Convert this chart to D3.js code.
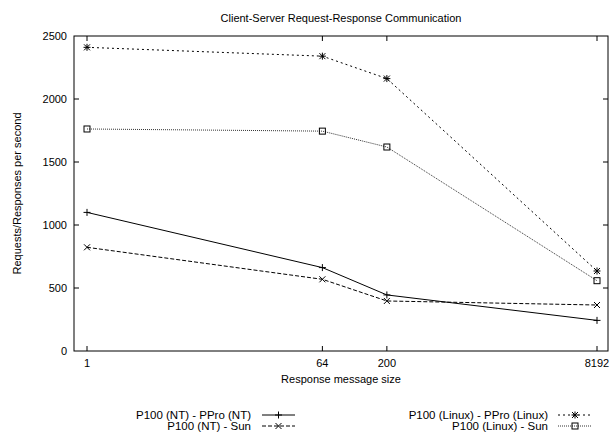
<!DOCTYPE html>
<html>
<head>
<meta charset="utf-8">
<script src="https://cdn.jsdelivr.net/npm/d3@7"></script>
<style>
  body { margin: 0; background: #fff; }
  svg { font-family: "Liberation Sans", Arial, sans-serif; }
</style>
</head>
<body>
<script>
var width = 611;
var height = 432;

// data
var sizes = [1, 64, 200, 8192];
var yTicks = [0, 500, 1000, 1500, 2000, 2500];
var ntPPro = [1100, 662, 445, 243];
var ntSun = [823, 569, 397, 365];
var linuxPPro = [2410, 2340, 2162, 635];
var linuxSun = [1762, 1745, 1619, 558];

var seriesNames = ["P100 (NT) - PPro (NT)", "P100 (NT) - Sun", "P100 (Linux) - PPro (Linux)", "P100 (Linux) - Sun"];

var series = [
  {name: seriesNames[0], values: ntPPro, dash: null, color: "#000", marker: "plus"},
  {name: seriesNames[1], values: ntSun, dash: "4,2", color: "#000", marker: "cross"},
  {name: seriesNames[2], values: linuxPPro, dash: "2,3", color: "#000", marker: "star"},
  {name: seriesNames[3], values: linuxSun, dash: "1,1", color: "#333", marker: "square"}
];

var frame = {left: 74, right: 608, top: 36, bottom: 351};

var svg = d3.select("body").append("svg")
    .attr("width", width)
    .attr("height", height);

var x = d3.scaleLog().base(2).domain([1, 8192]).range([87, 597]);
var y = d3.scaleLinear().domain([0, 2500]).range([frame.bottom, frame.top]);

// frame
svg.append("rect")
    .attr("x", frame.left)
    .attr("y", frame.top)
    .attr("width", frame.right - frame.left)
    .attr("height", frame.bottom - frame.top)
    .attr("fill", "none")
    .attr("stroke", "#000")
    .attr("stroke-width", 1);

// ticks (inward, mirrored)
var tl = 5;
yTicks.forEach(function(t) {
  if (t === 0 || t === 2500) return;
  svg.append("line").attr("x1", frame.left).attr("x2", frame.left + tl)
      .attr("y1", y(t)).attr("y2", y(t)).attr("stroke", "#000");
  svg.append("line").attr("x1", frame.right).attr("x2", frame.right - tl)
      .attr("y1", y(t)).attr("y2", y(t)).attr("stroke", "#000");
});
sizes.forEach(function(s) {
  svg.append("line").attr("x1", x(s)).attr("x2", x(s))
      .attr("y1", frame.bottom).attr("y2", frame.bottom - tl).attr("stroke", "#000");
  svg.append("line").attr("x1", x(s)).attr("x2", x(s))
      .attr("y1", frame.top).attr("y2", frame.top + tl).attr("stroke", "#000");
});

// tick labels
svg.selectAll(".ylab").data(yTicks).enter().append("text")
    .attr("x", 67)
    .attr("y", function(d) { return y(d) + 4; })
    .attr("text-anchor", "end")
    .attr("font-size", 11)
    .text(function(d) { return d; });

svg.selectAll(".xlab").data(sizes).enter().append("text")
    .attr("x", function(d) { return x(d); })
    .attr("y", 367)
    .attr("text-anchor", "middle")
    .attr("font-size", 11)
    .text(function(d) { return d; });

// titles
svg.append("text").attr("x", 341).attr("y", 22).attr("text-anchor", "middle")
    .attr("font-size", 11).text("Client-Server Request-Response Communication");
svg.append("text").attr("x", 341).attr("y", 383).attr("text-anchor", "middle")
    .attr("font-size", 11).text("Response message size");
svg.append("text")
    .attr("transform", "translate(21," + ((frame.top + frame.bottom) / 2) + ") rotate(-90)")
    .attr("text-anchor", "middle")
    .attr("font-size", 11)
    .text("Requests/Responses per second");

function drawMarker(g, type, cx, cy, color) {
  var r = 3.5;
  if (type === "plus" || type === "star") {
    g.append("line").attr("x1", cx - r).attr("x2", cx + r).attr("y1", cy).attr("y2", cy).attr("stroke", color);
    g.append("line").attr("x1", cx).attr("x2", cx).attr("y1", cy - r).attr("y2", cy + r).attr("stroke", color);
  }
  if (type === "cross" || type === "star") {
    var q = 3;
    g.append("line").attr("x1", cx - q).attr("x2", cx + q).attr("y1", cy - q).attr("y2", cy + q).attr("stroke", color);
    g.append("line").attr("x1", cx - q).attr("x2", cx + q).attr("y1", cy + q).attr("y2", cy - q).attr("stroke", color);
  }
  if (type === "square") {
    g.append("rect").attr("x", cx - 3).attr("y", cy - 3).attr("width", 6).attr("height", 6)
        .attr("fill", "none").attr("stroke", "#000");
  }
}

var line = d3.line()
    .x(function(d, i) { return x(sizes[i]); })
    .y(function(d) { return y(d); });

series.forEach(function(s) {
  var g = svg.append("g");
  g.append("path")
      .attr("d", line(s.values))
      .attr("fill", "none")
      .attr("stroke", s.color)
      .attr("stroke-width", 1)
      .attr("stroke-dasharray", s.dash);
  s.values.forEach(function(v, i) {
    drawMarker(g, s.marker, x(sizes[i]), y(v), "#000");
  });
});

// legend
var legendPos = [
  {tx: 251, y: 415, x1: 262, x2: 295},
  {tx: 251, y: 426, x1: 262, x2: 295},
  {tx: 548, y: 415, x1: 558, x2: 592},
  {tx: 548, y: 426, x1: 558, x2: 592}
];
series.forEach(function(s, i) {
  var p = legendPos[i];
  var g = svg.append("g");
  g.append("text").attr("x", p.tx).attr("y", p.y + 4).attr("text-anchor", "end")
      .attr("font-size", 11.5).text(s.name);
  g.append("line").attr("x1", p.x1).attr("x2", p.x2).attr("y1", p.y).attr("y2", p.y)
      .attr("stroke", s.color).attr("stroke-dasharray", s.dash);
  drawMarker(g, s.marker, (p.x1 + p.x2) / 2, p.y, "#000");
});
</script>
</body>
</html>
